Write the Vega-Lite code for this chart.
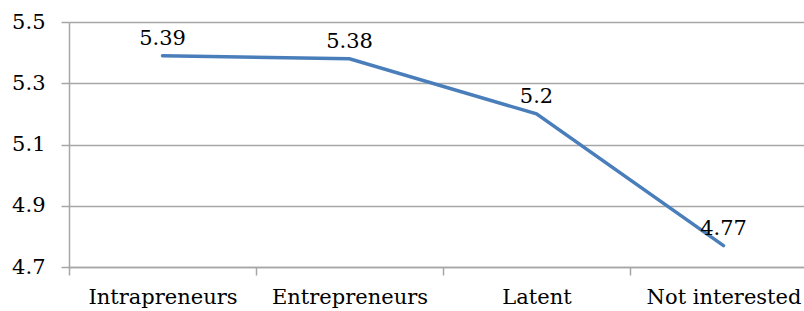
{
  "$schema": "https://vega.github.io/schema/vega-lite/v6.json",
  "width": 735,
  "height": 245,
  "autosize": {"type": "none"},
  "padding": {"left": 69, "top": 22, "right": 0, "bottom": 44},
  "background": "white",
  "config": {"view": {"stroke": null}, "font": "DejaVu Serif"},
  "data": {"values": [
    {"group": "Intrapreneurs", "value": 5.39},
    {"group": "Entrepreneurs", "value": 5.38},
    {"group": "Latent", "value": 5.2},
    {"group": "Not interested", "value": 4.77}
  ]},
  "encoding": {
    "x": {
      "field": "group", "type": "nominal", "sort": null,
      "scale": {"type": "band", "range": [0, 748], "paddingInner": 0, "paddingOuter": 0},
      "axis": {
        "title": null, "labelAngle": 0, "grid": false,
        "domainColor": "#a6a6a6", "domainWidth": 1.5,
        "tickColor": "#a6a6a6", "tickSize": 8, "tickWidth": 1.5, "tickBand": "extent",
        "labelFontSize": 21, "labelColor": "#000000", "labelPadding": 11,
        "labelFont": "DejaVu Serif", "labelFontWeight": "normal"
      }
    },
    "y": {
      "field": "value", "type": "quantitative",
      "scale": {"domain": [4.7, 5.5], "nice": false, "zero": false},
      "axis": {
        "title": null, "values": [4.7, 4.9, 5.1, 5.3, 5.5], "format": ".1f",
        "grid": true, "gridColor": "#a6a6a6", "gridWidth": 1.5,
        "domainColor": "#a6a6a6", "domainWidth": 1.5,
        "tickColor": "#a6a6a6", "tickSize": 8, "tickWidth": 1.5,
        "labelFontSize": 21, "labelColor": "#000000", "labelPadding": 16,
        "labelFont": "DejaVu Serif"
      }
    }
  },
  "layer": [
    {"mark": {"type": "line", "color": "#4a7ebb", "strokeWidth": 3.5, "strokeCap": "round"}},
    {
      "mark": {"type": "text", "dy": -17, "fontSize": 21, "color": "#000000", "font": "DejaVu Serif"},
      "encoding": {"text": {"field": "value", "type": "quantitative"}}
    }
  ]
}
